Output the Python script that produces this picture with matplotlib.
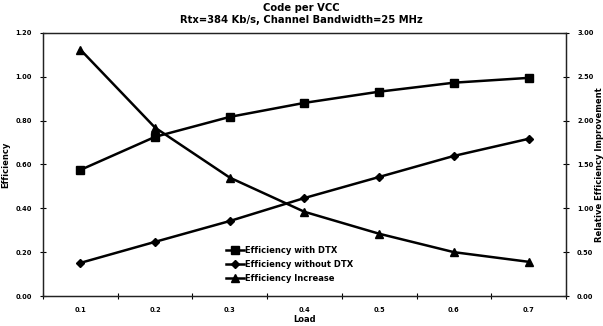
import numpy as np
import matplotlib

matplotlib.use("Agg")
import matplotlib.pyplot as plt  # noqa: E402
from matplotlib.ticker import FixedLocator, FormatStrFormatter  # noqa: E402

# Data
loads = ["0.1", "0.2", "0.3", "0.4", "0.5", "0.6", "0.7"]
eff_with_dtx = [0.575, 0.726, 0.817, 0.881, 0.932, 0.973, 0.995]
eff_without_dtx = [0.151, 0.247, 0.342, 0.447, 0.543, 0.639, 0.717]
eff_increase = [2.81, 1.92, 1.35, 0.96, 0.71, 0.50, 0.39]

plt.rcParams["font.family"] = ["DejaVu Sans"]
plt.rcParams["font.weight"] = "bold"

fig = plt.figure(figsize=(6.03, 3.26), dpi=100)
ax = fig.add_axes([0.0713, 0.092, 0.8673, 0.807])
ax2 = ax.twinx()

x = np.arange(len(loads))
lw = 1.8
h1, = ax.plot(x, eff_with_dtx, color="black", lw=lw, marker="s", markersize=5.5,
              label="Efficiency with DTX")
h2, = ax.plot(x, eff_without_dtx, color="black", lw=lw, marker="D", markersize=4,
              label="Efficiency without DTX")
h3, = ax2.plot(x, eff_increase, color="black", lw=lw, marker="^", markersize=6,
               label="Efficiency Increase")

ax.set_xlim(-0.5, len(loads) - 0.5)
ax.set_ylim(0, 1.2)
ax2.set_ylim(0, 3.0)
ax.set_yticks(np.arange(0, 1.21, 0.2))
ax2.set_yticks(np.arange(0, 3.01, 0.5))
ax.yaxis.set_major_formatter(FormatStrFormatter("%.2f"))
ax2.yaxis.set_major_formatter(FormatStrFormatter("%.2f"))

# category axis: labels centred, tick marks between categories
ax.set_xticks(x)
ax.set_xticklabels(loads)
ax.tick_params(axis="x", which="major", length=0, pad=8)
ax.xaxis.set_minor_locator(FixedLocator(np.arange(-0.5, len(loads), 1.0)))
ax.tick_params(axis="x", which="minor", length=4, direction="inout", width=0.8)
ax.tick_params(axis="y", length=4, direction="inout", width=0.8, pad=6)
ax2.tick_params(axis="y", length=4, direction="inout", width=0.8, pad=6)

for a in (ax, ax2):
    for lab in a.get_xticklabels() + a.get_yticklabels():
        lab.set_fontsize(4.8)
        lab.set_fontweight("bold")
    for sp in a.spines.values():
        sp.set_linewidth(0.9)
        sp.set_color("#222222")

ax.set_xlabel("Load", fontsize=6, fontweight="bold", labelpad=1)
ax.set_ylabel("Efficiency", fontsize=6, fontweight="bold")
ax.yaxis.set_label_coords(-0.063, 0.5)
ax2.set_ylabel("Relative Efficiency Improvement", fontsize=6, fontweight="bold")
ax2.yaxis.set_label_coords(1.055, 0.5)

fig.suptitle("Code per VCC\nRtx=384 Kb/s, Channel Bandwidth=25 MHz",
             fontsize=7.2, fontweight="bold", y=0.99, linespacing=1.25)

leg = ax.legend(handles=[h1, h2, h3], loc="lower left",
                bbox_to_anchor=(0.335, 0.02), frameon=False,
                handlelength=2.2, handletextpad=0.15, labelspacing=0.6,
                prop={"weight": "bold", "size": 6})

fig.savefig("out.png", dpi=100)
